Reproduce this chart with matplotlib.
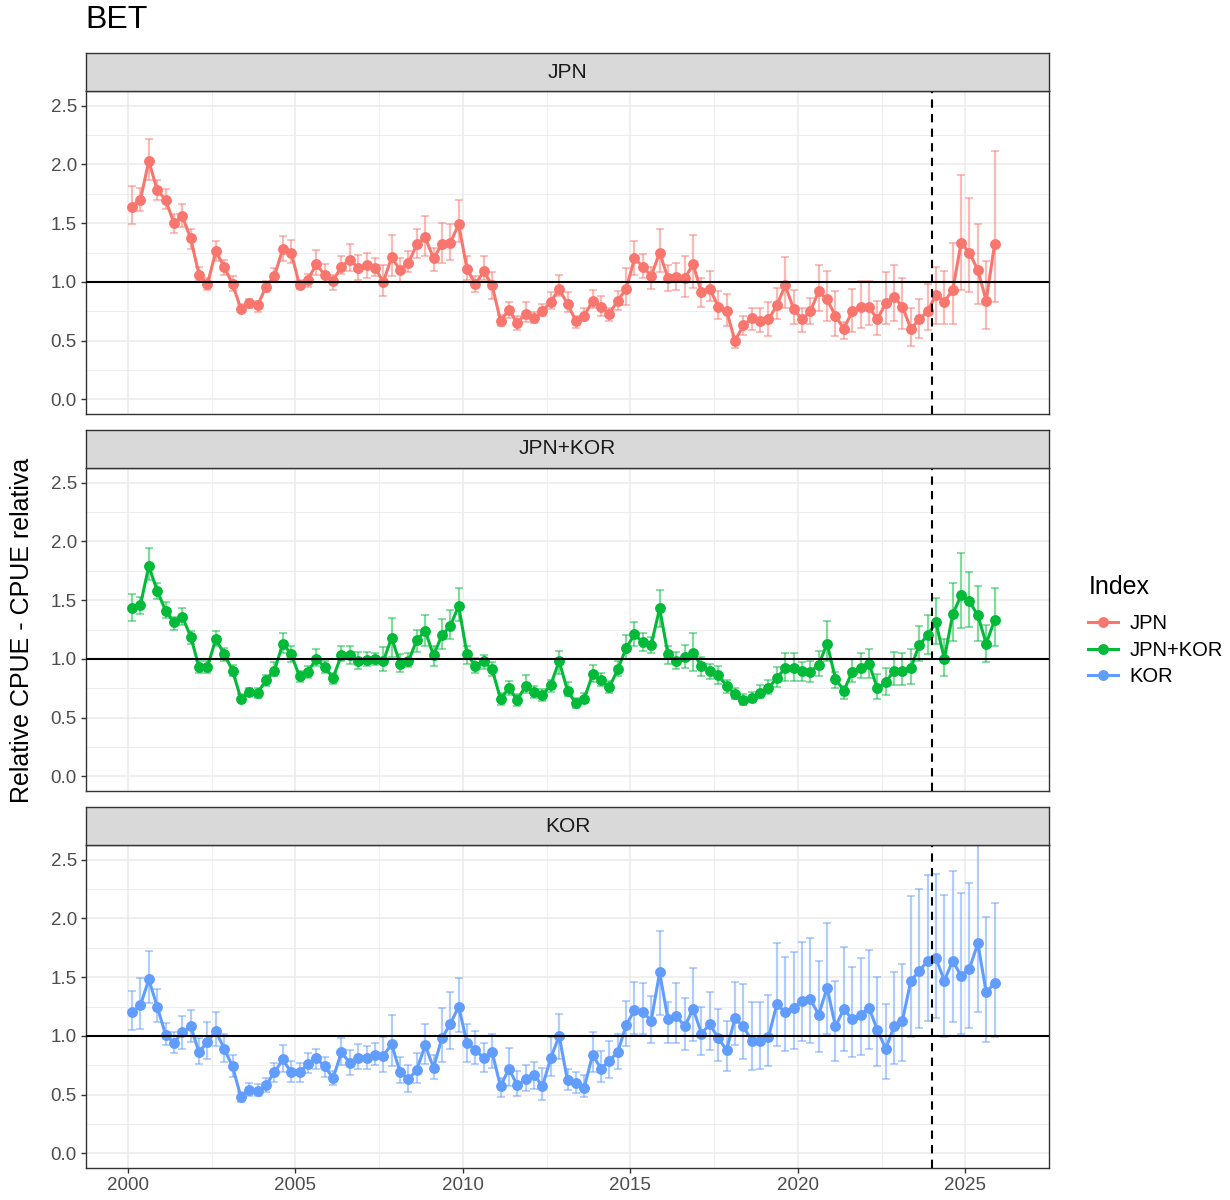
import numpy as np
import matplotlib
matplotlib.use("Agg")
from matplotlib import pyplot as plt
from matplotlib.lines import Line2D

plt.rcParams['font.family'] = ['Liberation Sans', 'DejaVu Sans']

# quarterly series 2000-2025
years = np.repeat(np.arange(2000, 2026), 4)
quarters = np.tile([1, 2, 3, 4], 26)
time = years + (quarters - 0.5) / 4

jpn = [1.64, 1.70, 2.03, 1.78, 1.70, 1.50, 1.56, 1.37, 1.06, 0.98, 1.26, 1.13, 0.98, 0.77, 0.82, 0.80,
       0.96, 1.05, 1.28, 1.25, 0.97, 1.02, 1.15, 1.06,
       1.01, 1.13, 1.19, 1.12, 1.14, 1.12, 1.00, 1.21, 1.10, 1.16, 1.32, 1.38, 1.20, 1.32, 1.33, 1.49,
       1.11, 0.98, 1.09, 0.97, 0.67, 0.76, 0.65, 0.73, 0.69, 0.75, 0.83, 0.94,
       0.81, 0.67, 0.71, 0.84, 0.79, 0.73, 0.84, 0.94, 1.20, 1.13, 1.05, 1.25, 1.03, 1.04, 1.03, 1.15,
       0.91, 0.94, 0.79, 0.75, 0.50, 0.63, 0.69, 0.67, 0.68, 0.80, 0.97, 0.77,
       0.68, 0.75, 0.92, 0.85, 0.71, 0.60, 0.75, 0.79, 0.79, 0.68, 0.82, 0.87, 0.79, 0.60, 0.68, 0.75,
       0.89, 0.83, 0.93, 1.33, 1.25, 1.10, 0.84, 1.32]
jpn_lo = [1.49, 1.60, 1.87, 1.70, 1.62, 1.42, 1.47, 1.28, 1.01, 0.93, 1.18, 1.06, 0.92, 0.74, 0.78, 0.74,
          0.91, 1.00, 1.18, 1.16, 0.94, 0.96, 1.06, 1.00,
          0.93, 1.07, 1.09, 1.02, 1.03, 1.05, 0.88, 1.05, 1.00, 1.08, 1.20, 1.22, 1.09, 1.16, 1.19, 1.34,
          1.02, 0.91, 1.02, 0.85, 0.62, 0.69, 0.59, 0.66, 0.65, 0.71, 0.77, 0.88,
          0.74, 0.61, 0.67, 0.78, 0.71, 0.67, 0.76, 0.80, 1.06, 1.03, 0.94, 1.08, 0.92, 0.93, 0.87, 0.95,
          0.79, 0.84, 0.68, 0.62, 0.44, 0.55, 0.59, 0.57, 0.54, 0.68, 0.78, 0.64,
          0.57, 0.64, 0.75, 0.67, 0.54, 0.51, 0.57, 0.61, 0.63, 0.55, 0.64, 0.67, 0.60, 0.45, 0.52, 0.59,
          0.64, 0.64, 0.64, 0.93, 0.91, 0.81, 0.60, 0.83]
jpn_hi = [1.82, 1.80, 2.22, 1.87, 1.79, 1.58, 1.66, 1.45, 1.13, 1.03, 1.35, 1.19, 1.05, 0.81, 0.85, 0.84,
          1.01, 1.12, 1.39, 1.36, 1.02, 1.07, 1.27, 1.15,
          1.06, 1.22, 1.32, 1.23, 1.25, 1.20, 1.14, 1.40, 1.20, 1.26, 1.45, 1.56, 1.29, 1.50, 1.49, 1.70,
          1.22, 1.05, 1.22, 1.08, 0.72, 0.83, 0.71, 0.83, 0.74, 0.81, 0.91, 1.06,
          0.91, 0.71, 0.78, 0.93, 0.88, 0.78, 0.92, 1.12, 1.35, 1.24, 1.13, 1.45, 1.14, 1.16, 1.22, 1.40,
          1.03, 1.09, 0.92, 0.90, 0.54, 0.71, 0.78, 0.78, 0.83, 0.95, 1.21, 0.93,
          0.78, 0.86, 1.14, 1.09, 0.92, 0.66, 0.94, 1.01, 1.01, 0.84, 1.08, 1.14, 1.03, 0.78, 0.85, 0.98,
          1.13, 1.09, 1.33, 1.91, 1.71, 1.49, 1.18, 2.11]

jpnkor = [1.43, 1.46, 1.79, 1.58, 1.41, 1.31, 1.36, 1.19, 0.93, 0.93, 1.17, 1.04, 0.90, 0.66, 0.72, 0.71,
          0.82, 0.90, 1.13, 1.04, 0.85, 0.89, 1.00, 0.93,
          0.84, 1.03, 1.03, 0.98, 0.99, 1.00, 0.98, 1.18, 0.96, 0.98, 1.16, 1.24, 1.03, 1.20, 1.28, 1.45,
          1.04, 0.94, 0.98, 0.91, 0.66, 0.75, 0.65, 0.77, 0.72, 0.69, 0.78, 0.98,
          0.73, 0.62, 0.66, 0.87, 0.82, 0.76, 0.91, 1.09, 1.21, 1.14, 1.12, 1.43, 1.04, 0.98, 1.02, 1.05,
          0.94, 0.90, 0.86, 0.77, 0.70, 0.65, 0.67, 0.71, 0.75, 0.84, 0.92, 0.92,
          0.90, 0.89, 0.95, 1.13, 0.83, 0.73, 0.89, 0.92, 0.96, 0.75, 0.80, 0.90, 0.90, 0.92, 1.12, 1.20,
          1.31, 1.00, 1.38, 1.54, 1.49, 1.37, 1.13, 1.33]
jpnkor_lo = [1.32, 1.38, 1.67, 1.51, 1.35, 1.25, 1.29, 1.13, 0.88, 0.88, 1.11, 0.98, 0.85, 0.63, 0.68, 0.67,
             0.77, 0.85, 1.05, 0.97, 0.80, 0.84, 0.94, 0.88,
             0.79, 0.98, 0.96, 0.91, 0.94, 0.95, 0.90, 1.02, 0.89, 0.93, 1.06, 1.11, 0.94, 1.08, 1.17, 1.32,
             0.96, 0.88, 0.91, 0.85, 0.61, 0.69, 0.60, 0.71, 0.67, 0.64, 0.72, 0.87,
             0.68, 0.58, 0.62, 0.80, 0.77, 0.71, 0.85, 1.00, 1.11, 1.07, 1.05, 1.27, 0.96, 0.91, 0.92, 0.90,
             0.85, 0.83, 0.79, 0.71, 0.66, 0.61, 0.63, 0.67, 0.70, 0.76, 0.81, 0.81,
             0.81, 0.80, 0.85, 0.98, 0.75, 0.66, 0.80, 0.84, 0.84, 0.66, 0.69, 0.78, 0.78, 0.79, 0.98, 1.04,
             1.13, 0.85, 1.15, 1.26, 1.27, 1.15, 0.97, 1.11]
jpnkor_hi = [1.55, 1.53, 1.94, 1.65, 1.48, 1.36, 1.43, 1.24, 0.98, 0.98, 1.24, 1.09, 0.95, 0.70, 0.75, 0.75,
             0.86, 0.97, 1.22, 1.11, 0.90, 0.94, 1.08, 0.98,
             0.88, 1.11, 1.11, 1.06, 1.06, 1.05, 1.10, 1.35, 1.04, 1.05, 1.25, 1.37, 1.11, 1.34, 1.42, 1.60,
             1.11, 1.01, 1.03, 0.97, 0.71, 0.81, 0.70, 0.86, 0.77, 0.74, 0.82, 1.07,
             0.80, 0.67, 0.71, 0.95, 0.88, 0.81, 0.98, 1.20, 1.31, 1.22, 1.19, 1.59, 1.11, 1.06, 1.12, 1.22,
             1.02, 0.96, 0.94, 0.82, 0.75, 0.70, 0.72, 0.78, 0.82, 0.93, 1.05, 1.05,
             0.97, 0.98, 1.07, 1.32, 0.89, 0.77, 1.00, 1.05, 1.08, 0.87, 0.92, 1.06, 1.05, 1.08, 1.28, 1.37,
             1.52, 1.17, 1.65, 1.90, 1.74, 1.62, 1.29, 1.60]

kor = [1.20, 1.26, 1.48, 1.25, 1.01, 0.94, 1.03, 1.08, 0.86, 0.95, 1.04, 0.89, 0.74, 0.48, 0.54, 0.53,
       0.58, 0.69, 0.80, 0.69, 0.69, 0.76, 0.81, 0.74,
       0.64, 0.86, 0.77, 0.81, 0.81, 0.84, 0.83, 0.93, 0.69, 0.63, 0.71, 0.92, 0.73, 0.98, 1.10, 1.25,
       0.94, 0.88, 0.81, 0.86, 0.57, 0.72, 0.58, 0.63, 0.67, 0.57, 0.81, 1.00,
       0.62, 0.60, 0.56, 0.84, 0.72, 0.79, 0.86, 1.09, 1.22, 1.20, 1.13, 1.54, 1.14, 1.17, 1.08, 1.23,
       1.02, 1.10, 0.98, 0.88, 1.15, 1.08, 0.96, 0.96, 0.99, 1.27, 1.20, 1.24,
       1.30, 1.31, 1.18, 1.41, 1.08, 1.23, 1.14, 1.18, 1.24, 1.05, 0.89, 1.08, 1.13, 1.47, 1.55, 1.64,
       1.66, 1.47, 1.64, 1.51, 1.57, 1.79, 1.37, 1.45]
kor_lo = [1.05, 1.06, 1.28, 1.12, 0.92, 0.85, 0.89, 0.95, 0.76, 0.80, 0.91, 0.78, 0.65, 0.44, 0.49, 0.49,
          0.52, 0.61, 0.69, 0.61, 0.61, 0.68, 0.72, 0.65,
          0.58, 0.75, 0.67, 0.72, 0.72, 0.75, 0.69, 0.74, 0.60, 0.52, 0.60, 0.76, 0.63, 0.78, 0.89, 1.03,
          0.78, 0.76, 0.69, 0.73, 0.48, 0.57, 0.49, 0.53, 0.55, 0.45, 0.66, 0.80,
          0.54, 0.51, 0.48, 0.69, 0.61, 0.64, 0.72, 0.91, 1.02, 1.02, 0.94, 1.18, 0.94, 0.94, 0.88, 0.96,
          0.84, 0.88, 0.79, 0.70, 0.92, 0.80, 0.71, 0.72, 0.74, 0.91, 0.87, 0.89,
          0.96, 0.94, 0.86, 1.02, 0.79, 0.87, 0.82, 0.84, 0.89, 0.74, 0.63, 0.76, 0.79, 0.99, 1.07, 1.13,
          1.15, 0.99, 1.12, 1.02, 1.07, 1.20, 0.95, 0.99]
kor_hi = [1.38, 1.49, 1.72, 1.40, 1.11, 1.03, 1.17, 1.22, 0.98, 1.12, 1.20, 1.02, 0.84, 0.52, 0.60, 0.59,
          0.64, 0.77, 0.92, 0.79, 0.77, 0.85, 0.89, 0.82,
          0.70, 0.98, 0.88, 0.93, 0.91, 0.94, 0.99, 1.18, 0.82, 0.75, 0.85, 1.10, 0.84, 1.24, 1.37, 1.49,
          1.10, 1.04, 0.94, 1.02, 0.64, 0.90, 0.70, 0.75, 0.78, 0.73, 0.99, 1.19,
          0.72, 0.69, 0.67, 1.03, 0.87, 0.96, 1.02, 1.30, 1.46, 1.45, 1.34, 1.89, 1.29, 1.45, 1.32, 1.58,
          1.25, 1.37, 1.23, 1.13, 1.46, 1.44, 1.29, 1.29, 1.35, 1.79, 1.67, 1.71,
          1.80, 1.83, 1.64, 1.96, 1.47, 1.76, 1.59, 1.66, 1.73, 1.50, 1.27, 1.54, 1.61, 2.19, 2.25, 2.37,
          2.38, 2.20, 2.40, 2.22, 2.30, 2.75, 2.01, 2.13]

names = ['JPN', 'JPN+KOR', 'KOR']
colors = ['#F8766D', '#00BA38', '#619CFF']
series = [(jpn, jpn_lo, jpn_hi), (jpnkor, jpnkor_lo, jpnkor_hi), (kor, kor_lo, kor_hi)]

W, H = 1230, 1200
fig = plt.figure(figsize=(W / 100, H / 100), dpi=100)

left, right = 86, 1049
panels = [(91, 414), (468, 791), (845, 1168)]
strip_h = 38

for i, (top, bot) in enumerate(panels):
    ax = fig.add_axes([left / W, 1 - bot / H, (right - left) / W, (bot - top) / H])
    y, lo, hi = [np.array(a) for a in series[i]]
    col = colors[i]
    ax.errorbar(time, y, yerr=[y - lo, hi - y], fmt='none', ecolor=col, alpha=0.5,
                elinewidth=1.6, capsize=3.0, capthick=1.3, zorder=2)
    ax.plot(time, y, color=col, lw=2.2, zorder=3)
    ax.plot(time, y, 'o', color=col, ms=6.8, zorder=4)
    ax.axhline(1.0, color='black', lw=1.5, zorder=5)
    ax.axvline(2024, color='black', lw=1.5, ls=(0, (4, 3)), zorder=5)

    ax.set_xlim(1998.75, 2027.3)
    ax.set_ylim(-0.125, 2.625)
    ax.set_xticks(np.arange(2000, 2030, 5))
    ax.set_xticks(np.arange(2002.5, 2030, 5), minor=True)
    ax.set_yticks(np.arange(0, 2.6, 0.5))
    ax.set_yticks(np.arange(0.25, 2.6, 0.5), minor=True)
    ax.set_yticklabels(['0.0', '0.5', '1.0', '1.5', '2.0', '2.5'])
    ax.grid(which='major', color='#EBEBEB', lw=1.1, zorder=0)
    ax.grid(which='minor', color='#EBEBEB', lw=0.6, zorder=0)
    ax.set_axisbelow(True)
    for s in ax.spines.values():
        s.set_color('#333333')
        s.set_linewidth(1.0)
    ax.tick_params(which='major', length=3.5, width=1.0, color='#333333',
                   labelsize=13.5, labelcolor='#4D4D4D', pad=3)
    ax.tick_params(which='minor', length=0)
    if i < 2:
        ax.tick_params(axis='x', which='major', labelbottom=False, length=0)

    # facet strip
    sax = fig.add_axes([left / W, 1 - top / H, (right - left) / W, strip_h / H])
    sax.set_facecolor('#D9D9D9')
    sax.set_xticks([])
    sax.set_yticks([])
    for s in sax.spines.values():
        s.set_color('#333333')
        s.set_linewidth(1.0)
    sax.text(0.5, 0.5, names[i], ha='center', va='center', fontsize=15,
             color='#1A1A1A', transform=sax.transAxes)

fig.text(85 / W, 1 - 20 / H, 'BET', fontsize=23, ha='left', va='center')
fig.text(22 / W, 1 - 630 / H, 'Relative CPUE - CPUE relativa', rotation=90,
         fontsize=18, ha='center', va='center')

fig.text(1089 / W, 1 - 587 / H, 'Index', fontsize=18, ha='left', va='center')
handles = [Line2D([0], [0], color=c, lw=2.2, marker='o', ms=6.8) for c in colors]
leg = fig.legend(handles, names, loc='upper left', bbox_to_anchor=(1088 / W, 1 - 614 / H),
                 frameon=False, fontsize=14.5, handlelength=1.5, handletextpad=0.55,
                 labelspacing=0.38, borderaxespad=0, borderpad=0)

fig.savefig('out.png', dpi=100)
